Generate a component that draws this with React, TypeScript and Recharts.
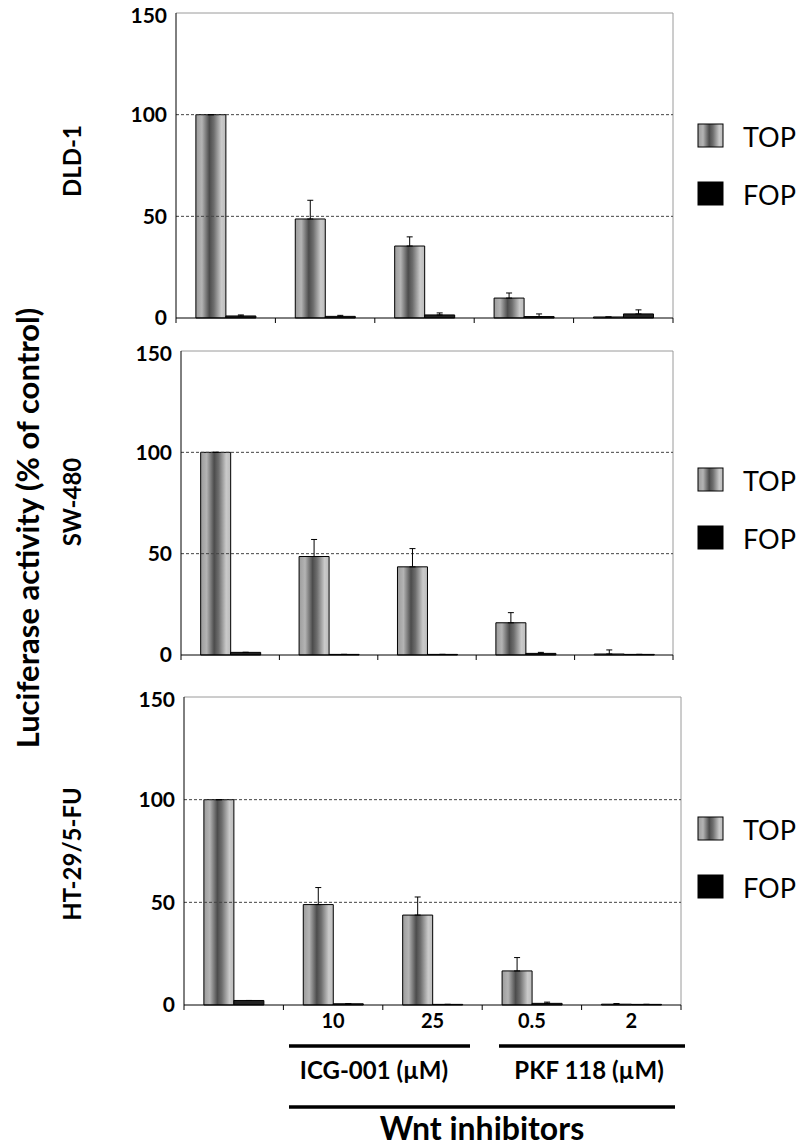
import React from "react";
import { BarChart, Bar, XAxis, YAxis, ErrorBar, ReferenceLine, CartesianGrid } from "recharts";

const doses = ["", "10", "25", "0.5", "2"];
const cellLines = ["DLD-1", "SW-480", "HT-29/5-FU"];
const yTicks = [0, 50, 100, 150];
const legendItems = ["TOP", "FOP"];

// DLD-1
const dldTop = [100, 48.7, 35.4, 9.8, 0.5];
const dldTopErr = [0, 9.2, 4.5, 2.5, 0];
const dldFop = [1, 0.8, 1.5, 0.7, 2];
const dldFopErr = [0.5, 0.5, 1, 1.3, 2];

// SW-480
const swTop = [100, 48.6, 43.5, 15.9, 0.5];
const swTopErr = [0, 8.4, 9, 5, 2];
const swFop = [1.3, 0.3, 0.3, 0.8, 0.3];
const swFopErr = [0, 0, 0, 0.5, 0];

// HT-29/5-FU
const htTop = [100, 48.9, 43.8, 16.6, 0.4];
const htTopErr = [0, 8.3, 8.8, 6.5, 0.3];
const htFop = [2.2, 0.6, 0.3, 0.8, 0.3];
const htFopErr = [0, 0, 0, 0.6, 0];

const FONT = "Lato, 'Open Sans', sans-serif";

const makeRows = (top: number[], topErr: number[], fop: number[], fopErr: number[]) =>
  doses.map((d, i) => ({
    dose: d,
    top: top[i],
    topErr: [0, topErr[i]],
    fop: fop[i],
    fopErr: [0, fopErr[i]],
  }));

const panels = [
  { rows: makeRows(dldTop, dldTopErr, dldFop, dldFopErr), plotTop: 13, plotBottom: 318, plotLeft: 176, plotRight: 673, showX: false, legendY: 124, labelY: 161 },
  { rows: makeRows(swTop, swTopErr, swFop, swFopErr), plotTop: 351, plotBottom: 655, plotLeft: 181, plotRight: 673, showX: false, legendY: 468, labelY: 502 },
  { rows: makeRows(htTop, htTopErr, htFop, htFopErr), plotTop: 697, plotBottom: 1005, plotLeft: 184, plotRight: 681, showX: true, legendY: 817, labelY: 854 },
];

function TopGradient({ id }: { id: string }) {
  return (
    <linearGradient id={id} x1="0" y1="0" x2="1" y2="0">
      <stop offset="0%" stopColor="#9c9c9c" />
      <stop offset="20%" stopColor="#b4b4b4" />
      <stop offset="45%" stopColor="#4c4c4c" />
      <stop offset="60%" stopColor="#6e6e6e" />
      <stop offset="85%" stopColor="#cacaca" />
      <stop offset="100%" stopColor="#bcbcbc" />
    </linearGradient>
  );
}

function Panel({ p, idx }: { p: any; idx: number }) {
  const padTop = 10;
  const xAxisH = 40;
  const yAxisW = 60;
  const h = p.plotBottom - p.plotTop + padTop + xAxisH;
  const axisY = padTop + (p.plotBottom - p.plotTop);
  const gid = `topGrad${idx}`;

  const renderTick = (props: any) => {
    const { x, payload, index } = props;
    const half = payload.offset ?? 0;
    return (
      <g>
        <line x1={x - half} y1={axisY} x2={x - half} y2={axisY + 5} stroke="#000" />
        {index === doses.length - 1 && (
          <line x1={x + half} y1={axisY} x2={x + half} y2={axisY + 5} stroke="#000" />
        )}
        {p.showX && (
          <text x={x} y={axisY + 23} textAnchor="middle" fontSize={20} fontWeight="bold" fontFamily={FONT} fill="#000">
            {payload.value}
          </text>
        )}
      </g>
    );
  };

  return (
    <div style={{ position: "absolute", left: 0, top: p.plotTop - padTop }}>
      <BarChart
        width={800}
        height={h}
        data={p.rows}
        margin={{ top: padTop, right: 800 - p.plotRight, bottom: 0, left: p.plotLeft - yAxisW }}
        barCategoryGap="20%"
        barGap={0}
      >
        <defs>
          <TopGradient id={gid} />
        </defs>
        <CartesianGrid
          horizontal={false}
          vertical
          stroke="#9a9a9a"
          verticalCoordinatesGenerator={({ offset }: any) => [offset.left + offset.width]}
        />
        <XAxis
          dataKey="dose"
          height={xAxisH}
          axisLine={{ stroke: "#000" }}
          tickLine={false}
          tick={renderTick}
          interval={0}
        />
        <YAxis
          width={yAxisW}
          domain={[0, 150]}
          ticks={yTicks}
          axisLine={{ stroke: "#000" }}
          tickLine={false}
          tickSize={4}
          tickMargin={5}
          tick={{ fontSize: 21, fontWeight: "bold", fontFamily: FONT, fill: "#000" }}
        />
        <ReferenceLine y={150} stroke="#9a9a9a" />
        <ReferenceLine y={100} stroke="#444" strokeDasharray="3 2" />
        <ReferenceLine y={50} stroke="#444" strokeDasharray="3 2" />
        <Bar dataKey="top" fill={`url(#${gid})`} stroke="#000" strokeWidth={1} isAnimationActive={false}>
          <ErrorBar dataKey="topErr" direction="y" width={3} stroke="#000" strokeWidth={1} isAnimationActive={false} />
        </Bar>
        <Bar dataKey="fop" fill="#222" stroke="#000" strokeWidth={1} isAnimationActive={false}>
          <ErrorBar dataKey="fopErr" direction="y" width={3} stroke="#000" strokeWidth={1} isAnimationActive={false} />
        </Bar>
      </BarChart>
    </div>
  );
}

export default function App() {
  return (
    <div style={{ position: "absolute", left: 0, top: 0, width: 800, height: 1148, background: "#fff", fontFamily: FONT }}>
      {panels.map((p, i) => (
        <Panel key={i} p={p} idx={i} />
      ))}
      <svg width={800} height={1148} style={{ position: "absolute", left: 0, top: 0, pointerEvents: "none" }}>
        <defs>
          <TopGradient id="legendGrad" />
        </defs>
        <text
          transform="translate(39, 528) rotate(-90)"
          textAnchor="middle"
          fontSize={31}
          fontWeight="bold"
          fontFamily={FONT}
          fill="#000"
        >
          Luciferase activity (% of control)
        </text>
        {panels.map((p, i) => (
          <g key={i}>
            <text
              transform={`translate(81, ${p.labelY}) rotate(-90)`}
              textAnchor="middle"
              fontSize={24}
              fontWeight="bold"
              fontFamily={FONT}
              fill="#000"
            >
              {cellLines[i]}
            </text>
            {legendItems.map((name, j) => (
              <g key={name}>
                <rect
                  x={698}
                  y={p.legendY + j * 58}
                  width={25}
                  height={23}
                  fill={j === 0 ? "url(#legendGrad)" : "#000"}
                  stroke="#000"
                  strokeWidth={1}
                />
                <text x={743} y={p.legendY + j * 58 + 23} fontSize={27} fontFamily={FONT} fill="#000">
                  {name}
                </text>
              </g>
            ))}
          </g>
        ))}
        <line x1={289} y1={1046} x2={470} y2={1046} stroke="#000" strokeWidth={3.5} />
        <line x1={499} y1={1046} x2={685} y2={1046} stroke="#000" strokeWidth={3.5} />
        <text x={374} y={1079} textAnchor="middle" fontSize={24} fontWeight="bold" fontFamily={FONT} fill="#000">
          ICG-001 (µM)
        </text>
        <text x={589} y={1079} textAnchor="middle" fontSize={24} fontWeight="bold" fontFamily={FONT} fill="#000">
          PKF 118 (µM)
        </text>
        <line x1={289} y1={1107} x2={675} y2={1107} stroke="#000" strokeWidth={3.5} />
        <text x={482} y={1140} textAnchor="middle" fontSize={32} fontWeight="bold" fontFamily={FONT} fill="#000">
          Wnt inhibitors
        </text>
      </svg>
    </div>
  );
}
